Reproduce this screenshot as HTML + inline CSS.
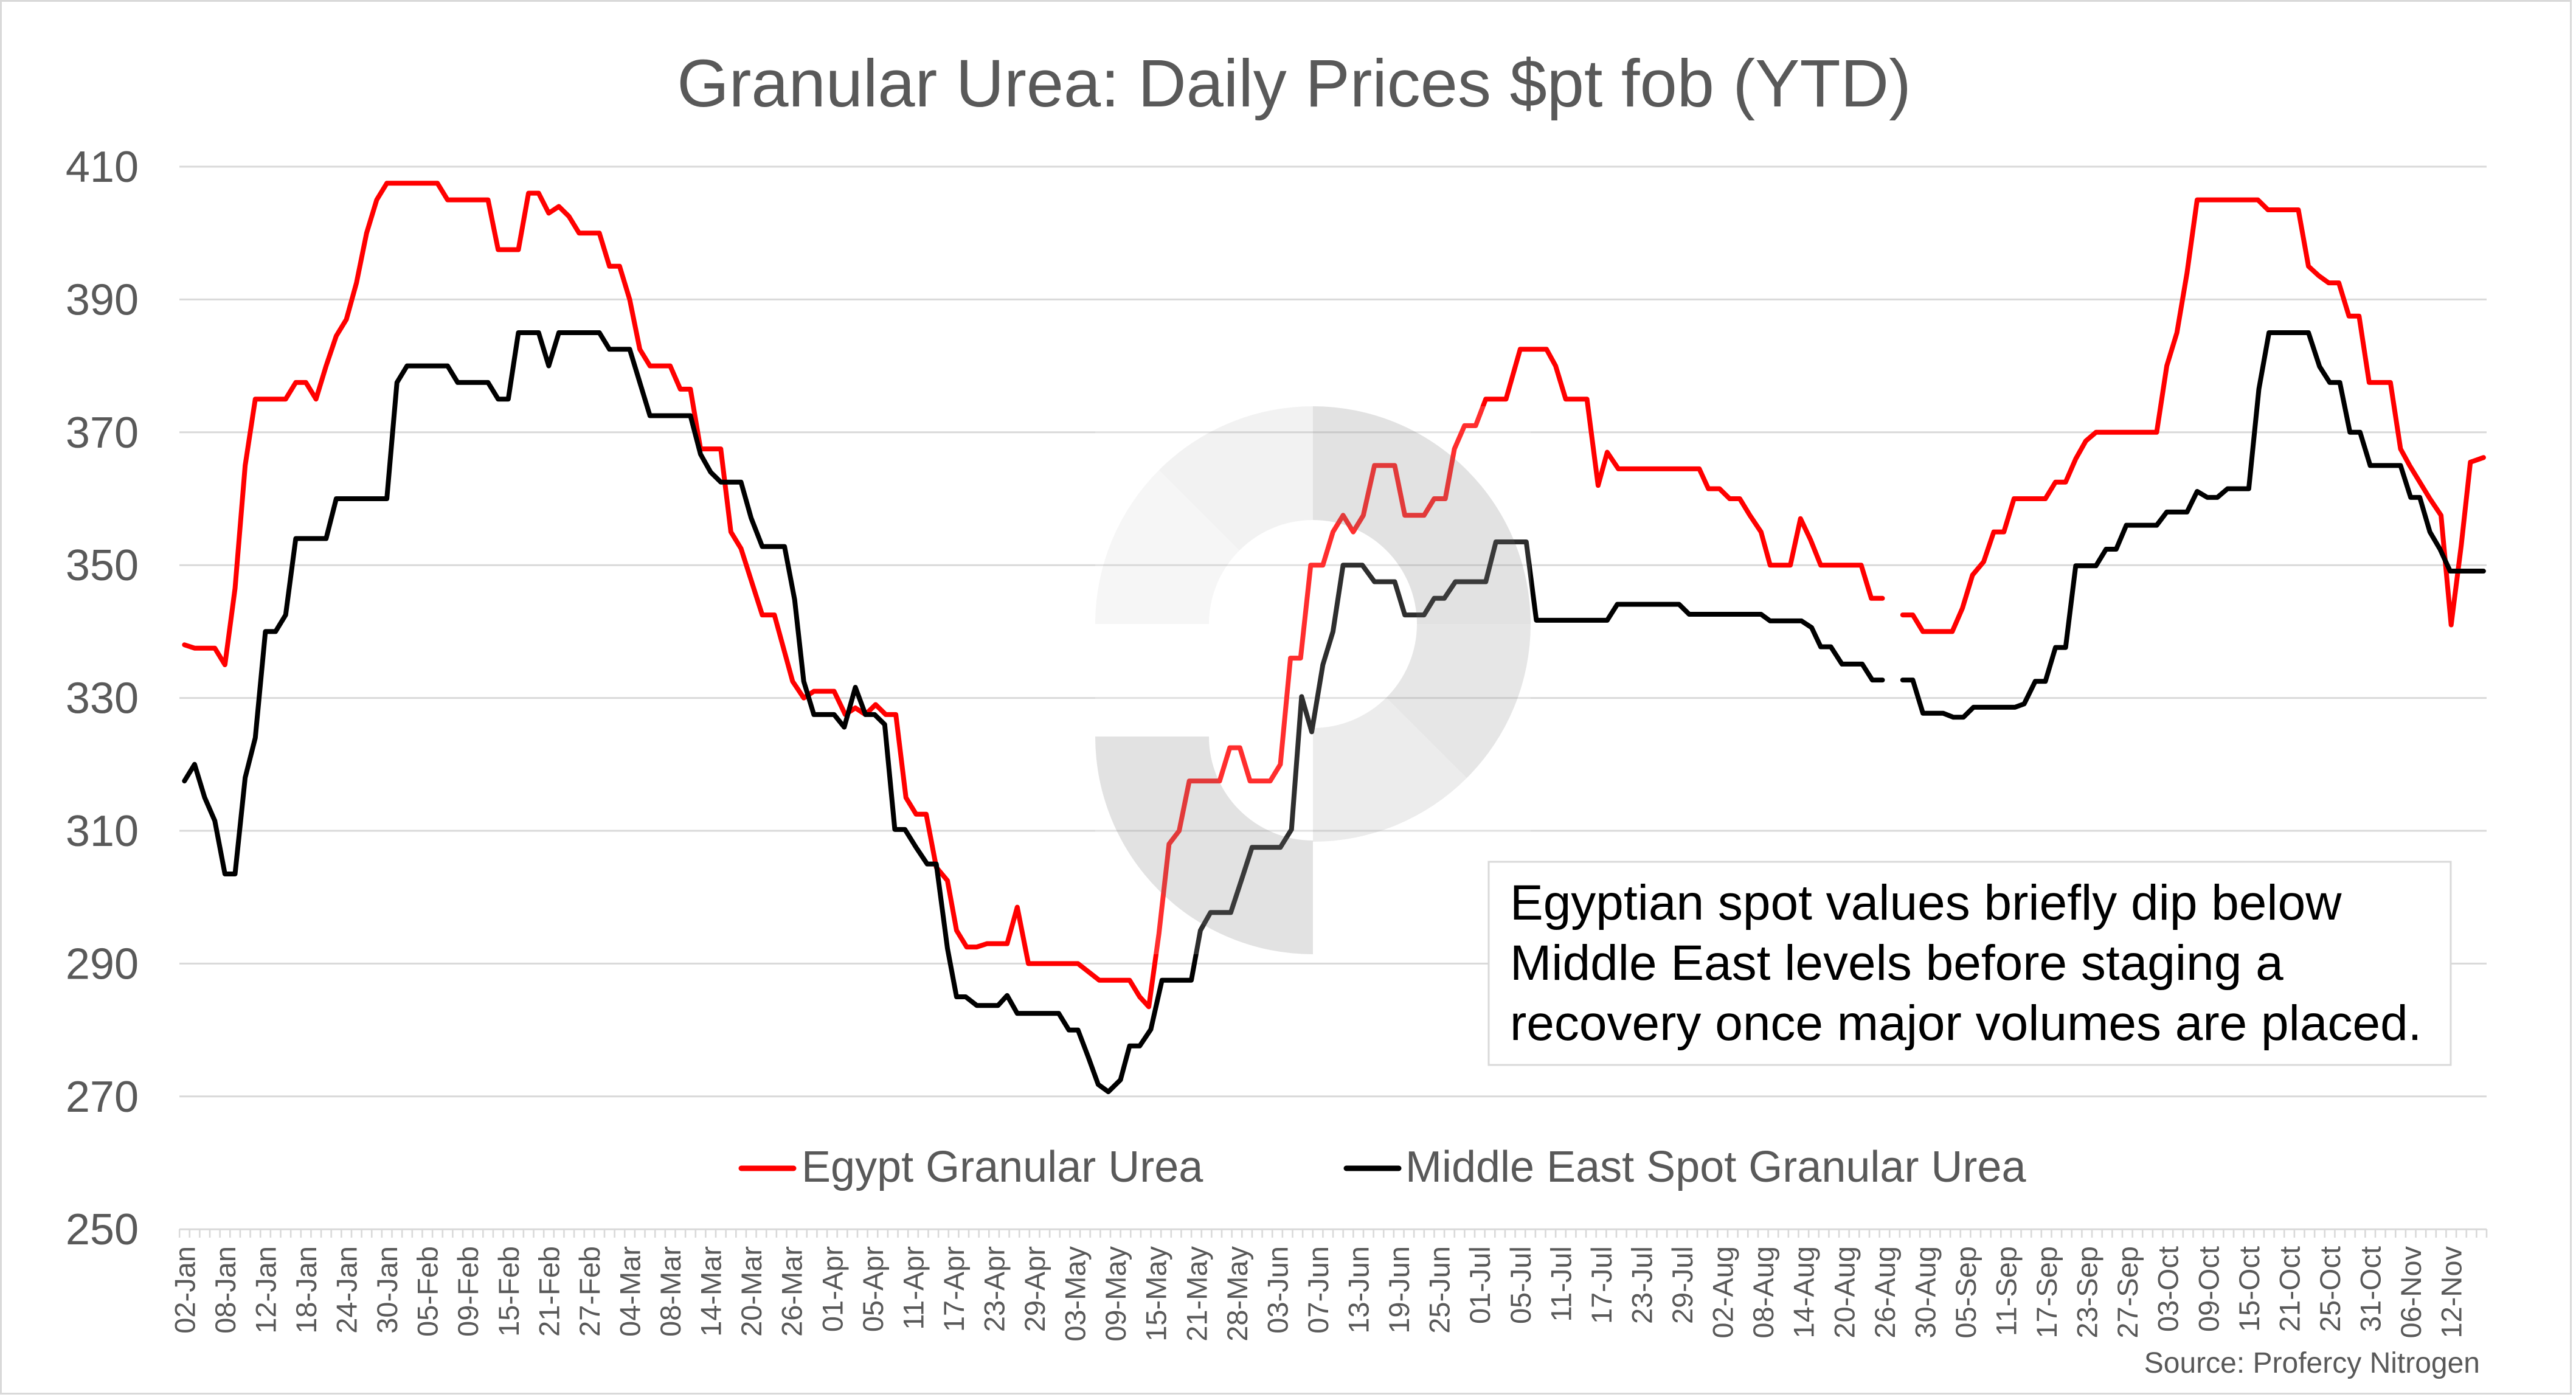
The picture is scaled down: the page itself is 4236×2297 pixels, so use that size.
<!DOCTYPE html>
<html>
<head>
<meta charset="utf-8">
<style>
html,body{margin:0;padding:0;background:#fff;}
svg{display:block;}
text{font-family:"Liberation Sans",Arial,sans-serif;}
</style>
</head>
<body>
<svg width="4236" height="2297" viewBox="0 0 4236 2297" xmlns="http://www.w3.org/2000/svg">
<defs>
<pattern id="tk" x="293.8" y="2021" width="16.64" height="30" patternUnits="userSpaceOnUse">
<rect x="0" y="0" width="2.6" height="30" fill="#d9d9d9"/>
</pattern>
</defs>
<rect width="4236" height="2297" fill="#fff"/>
<rect x="1.5" y="1.5" width="4226" height="2290" fill="none" stroke="#d9d9d9" stroke-width="3"/>

<!-- Title -->
<text x="2128" y="175" font-size="110" fill="#595959" text-anchor="middle">Granular Urea: Daily Prices $pt fob (YTD)</text>

<!-- Gridlines -->
<g stroke="#d9d9d9" stroke-width="3">
<line x1="295" y1="274" x2="4089" y2="274"/>
<line x1="295" y1="492.4" x2="4089" y2="492.4"/>
<line x1="295" y1="710.8" x2="4089" y2="710.8"/>
<line x1="295" y1="929.2" x2="4089" y2="929.2"/>
<line x1="295" y1="1147.6" x2="4089" y2="1147.6"/>
<line x1="295" y1="1366" x2="4089" y2="1366"/>
<line x1="295" y1="1584.4" x2="4089" y2="1584.4"/>
<line x1="295" y1="1802.8" x2="4089" y2="1802.8"/>
<line x1="295" y1="2021.2" x2="4089" y2="2021.2"/>
</g>
<rect x="293.8" y="2021" width="3797" height="14" fill="url(#tk)"/>

<!-- Y labels -->
<g font-size="72" fill="#595959" text-anchor="end">
<text x="228" y="299">410</text>
<text x="228" y="517.4">390</text>
<text x="228" y="735.8">370</text>
<text x="228" y="954.2">350</text>
<text x="228" y="1172.6">330</text>
<text x="228" y="1391">310</text>
<text x="228" y="1609.4">290</text>
<text x="228" y="1827.8">270</text>
<text x="228" y="2046.2">250</text>
</g>

<!-- X labels -->
<g font-size="47" fill="#595959" text-anchor="end">
<text transform="translate(320.3,2049) rotate(-90)">02-Jan</text>
<text transform="translate(386.9,2049) rotate(-90)">08-Jan</text>
<text transform="translate(453.4,2049) rotate(-90)">12-Jan</text>
<text transform="translate(520.0,2049) rotate(-90)">18-Jan</text>
<text transform="translate(586.5,2049) rotate(-90)">24-Jan</text>
<text transform="translate(653.1,2049) rotate(-90)">30-Jan</text>
<text transform="translate(719.7,2049) rotate(-90)">05-Feb</text>
<text transform="translate(786.2,2049) rotate(-90)">09-Feb</text>
<text transform="translate(852.8,2049) rotate(-90)">15-Feb</text>
<text transform="translate(919.3,2049) rotate(-90)">21-Feb</text>
<text transform="translate(985.9,2049) rotate(-90)">27-Feb</text>
<text transform="translate(1052.5,2049) rotate(-90)">04-Mar</text>
<text transform="translate(1119.0,2049) rotate(-90)">08-Mar</text>
<text transform="translate(1185.6,2049) rotate(-90)">14-Mar</text>
<text transform="translate(1252.1,2049) rotate(-90)">20-Mar</text>
<text transform="translate(1318.7,2049) rotate(-90)">26-Mar</text>
<text transform="translate(1385.3,2049) rotate(-90)">01-Apr</text>
<text transform="translate(1451.8,2049) rotate(-90)">05-Apr</text>
<text transform="translate(1518.4,2049) rotate(-90)">11-Apr</text>
<text transform="translate(1584.9,2049) rotate(-90)">17-Apr</text>
<text transform="translate(1651.5,2049) rotate(-90)">23-Apr</text>
<text transform="translate(1718.1,2049) rotate(-90)">29-Apr</text>
<text transform="translate(1784.6,2049) rotate(-90)">03-May</text>
<text transform="translate(1851.2,2049) rotate(-90)">09-May</text>
<text transform="translate(1917.7,2049) rotate(-90)">15-May</text>
<text transform="translate(1984.3,2049) rotate(-90)">21-May</text>
<text transform="translate(2050.9,2049) rotate(-90)">28-May</text>
<text transform="translate(2117.4,2049) rotate(-90)">03-Jun</text>
<text transform="translate(2184.0,2049) rotate(-90)">07-Jun</text>
<text transform="translate(2250.5,2049) rotate(-90)">13-Jun</text>
<text transform="translate(2317.1,2049) rotate(-90)">19-Jun</text>
<text transform="translate(2383.7,2049) rotate(-90)">25-Jun</text>
<text transform="translate(2450.2,2049) rotate(-90)">01-Jul</text>
<text transform="translate(2516.8,2049) rotate(-90)">05-Jul</text>
<text transform="translate(2583.3,2049) rotate(-90)">11-Jul</text>
<text transform="translate(2649.9,2049) rotate(-90)">17-Jul</text>
<text transform="translate(2716.5,2049) rotate(-90)">23-Jul</text>
<text transform="translate(2783.0,2049) rotate(-90)">29-Jul</text>
<text transform="translate(2849.6,2049) rotate(-90)">02-Aug</text>
<text transform="translate(2916.1,2049) rotate(-90)">08-Aug</text>
<text transform="translate(2982.7,2049) rotate(-90)">14-Aug</text>
<text transform="translate(3049.3,2049) rotate(-90)">20-Aug</text>
<text transform="translate(3115.8,2049) rotate(-90)">26-Aug</text>
<text transform="translate(3182.4,2049) rotate(-90)">30-Aug</text>
<text transform="translate(3248.9,2049) rotate(-90)">05-Sep</text>
<text transform="translate(3315.5,2049) rotate(-90)">11-Sep</text>
<text transform="translate(3382.1,2049) rotate(-90)">17-Sep</text>
<text transform="translate(3448.6,2049) rotate(-90)">23-Sep</text>
<text transform="translate(3515.2,2049) rotate(-90)">27-Sep</text>
<text transform="translate(3581.7,2049) rotate(-90)">03-Oct</text>
<text transform="translate(3648.3,2049) rotate(-90)">09-Oct</text>
<text transform="translate(3714.9,2049) rotate(-90)">15-Oct</text>
<text transform="translate(3781.4,2049) rotate(-90)">21-Oct</text>
<text transform="translate(3848.0,2049) rotate(-90)">25-Oct</text>
<text transform="translate(3914.5,2049) rotate(-90)">31-Oct</text>
<text transform="translate(3981.1,2049) rotate(-90)">06-Nov</text>
<text transform="translate(4047.7,2049) rotate(-90)">12-Nov</text>
</g>

<!-- Series -->
<g transform="matrix(16.64 0 0 -10.92 303.32 4751.2)" fill="none" stroke-linejoin="round" stroke-linecap="round">
<polyline vector-effect="non-scaling-stroke" stroke="#ff0000" stroke-width="8" points="0,338 1,337.5 3,337.5 4,335 5,346.5 6,365 7,375 10,375 11,377.5 12,377.5 13,375 14,380 15,384.5 16,387 17,392.5 18,400 19,405 20,407.5 25,407.5 26,405 30,405 31,397.5 33,397.5 34,406 35,406 36,403 37,404 38,402.5 39,400 41,400 42,395 43,395 44,390 45,382.5 46,380 48,380 49,376.5 50,376.5 51,367.5 53,367.5 54,355 55,352.5 57.1,342.5 58.3,342.5 60.1,332.5 61.2,330 62.2,331 64.2,331 65.3,327.5 66.3,328.5 67.3,327.5 68.3,329 69.3,327.5 70.3,327.5 71.3,315 72.3,312.5 73.3,312.5 74.3,304.5 75.4,302.5 76.3,295 77.3,292.5 78.3,292.5 79.3,293 81.3,293 82.3,298.5 83.4,290 88.3,290 90.4,287.5 93.4,287.5 94.4,285 95.3,283.5 96.3,294.5 97.3,308 98.3,310 99.3,317.5 102.3,317.5 103.3,322.5 104.3,322.5 105.3,317.5 107.3,317.5 108.3,320 109.3,336 110.3,336 111.3,350 112.5,350 113.5,355 114.5,357.5 115.5,355 116.5,357.5 117.6,365 119.6,365 120.6,357.5 122.5,357.5 123.5,360 124.6,360 125.5,367.5 126.5,371 127.6,371 128.6,375 130.6,375 132,382.5 134.6,382.5 135.5,380 136.5,375 138.6,375 139.7,362 140.6,367 141.7,364.5 149.7,364.5 150.6,361.5 151.7,361.5 152.7,360 153.7,360 154.7,357.5 155.8,355 156.7,350 158.7,350 159.7,357 160.7,353.8 161.7,350 165.7,350 166.7,345 167.8,345"/>
<polyline vector-effect="non-scaling-stroke" stroke="#ff0000" stroke-width="8" points="169.8,342.5 170.8,342.5 171.8,340 174.7,340 175.7,343.5 176.7,348.5 177.8,350.5 178.8,355 179.8,355 180.8,360 183.9,360 184.9,362.5 185.9,362.5 186.9,366 187.9,368.7 188.9,370 194.9,370 195.9,380 196.9,385 197.9,394 198.9,405 204.9,405 205.9,403.5 208.9,403.5 209.9,395 210.9,393.6 211.9,392.5 212.9,392.5 213.9,387.5 214.9,387.5 215.9,377.5 218,377.5 219,367.5 219.9,365 220.9,362.5 221.9,360 223,357.5 224,341 225,353 225.9,365.5 227.2,366.2"/>
<polyline vector-effect="non-scaling-stroke" stroke="#000000" stroke-width="8" points="0,317.5 1,320 2,315 3,311.5 4,303.5 5,303.5 6,318 7,324 8,340 9,340 10,342.5 11,354 14,354 15,360 20,360 21,377.5 22,380 26,380 27,377.5 30,377.5 31,375 32,375 33,385 35,385 36,380 37,385 41,385 42,382.5 44,382.5 45,377.5 46,372.5 50,372.5 51,366.7 52,364 53,362.5 55,362.5 56,357.1 57.1,352.8 59.3,352.8 60.3,344.8 61.2,332.5 62.2,327.5 64.2,327.5 65.2,325.6 66.3,331.6 67.3,327.5 68.2,327.5 69.2,326 70.2,310.2 71.2,310.2 72.3,307.5 73.4,305 74.3,305 75.4,292.3 76.3,285 77.2,285 78.3,283.7 80.4,283.7 81.3,285.2 82.3,282.5 86.4,282.5 87.4,280 88.3,280 89.3,276 90.3,271.8 91.3,270.7 92.5,272.5 93.4,277.6 94.4,277.6 95.5,280.1 96.6,287.5 99.5,287.5 100.4,295 101.4,297.7 103.4,297.7 104.5,302.8 105.5,307.5 108.3,307.5 109.4,310.2 110.4,330.2 111.4,324.9 112.5,335 113.5,340 114.5,350 116.4,350 117.6,347.5 119.6,347.5 120.6,342.5 122.5,342.5 123.5,345 124.5,345 125.6,347.5 128.6,347.5 129.6,353.5 132.6,353.5 133.6,341.7 140.6,341.7 141.6,344.1 147.7,344.1 148.7,342.6 155.8,342.6 156.7,341.6 159.8,341.6 160.8,340.6 161.7,337.7 162.7,337.7 163.8,335.1 165.8,335.1 166.8,332.7 167.8,332.7"/>
<polyline vector-effect="non-scaling-stroke" stroke="#000000" stroke-width="8" points="169.8,332.7 170.8,332.7 171.8,327.7 173.8,327.7 174.8,327.1 175.8,327.1 176.8,328.6 180.9,328.6 181.8,329.1 182.9,332.5 183.9,332.5 184.9,337.6 185.9,337.6 186.9,349.9 188.9,349.9 189.9,352.4 190.9,352.4 191.9,356 194.9,356 195.9,358 197.9,358 198.9,361.1 199.9,360.2 200.9,360.2 201.9,361.5 204,361.5 205,376.5 206,385 209.9,385 211,379.9 212,377.5 213,377.5 214,370 215,370 216,365 219,365 220,360.2 220.9,360.2 221.9,355 222.9,352.4 223.9,349.1 227.2,349.1"/>
</g>

<!-- Watermark -->
<g>
<rect x="1801" y="668" width="716" height="901" fill="#ffffff" fill-opacity="0.18"/>
<path d="M1801,1026 A358,358 0 0 1 1905.9,772.9 L2038.1,905.1 A171,171 0 0 0 1988,1026 Z" fill="#6f6f6f" fill-opacity="0.0625"/>
<path d="M1905.9,772.9 A358,358 0 0 1 2159,668 L2159,855 A171,171 0 0 0 2038.1,905.1 Z" fill="#6f6f6f" fill-opacity="0.09"/>
<path d="M2159,668 A358,358 0 0 1 2517,1026 L2330,1026 A171,171 0 0 0 2159,855 Z" fill="#6f6f6f" fill-opacity="0.2"/>
<path d="M2517,1026 A358,358 0 0 1 2412.1,1279.1 L2279.9,1146.9 A171,171 0 0 0 2330,1026 Z" fill="#6f6f6f" fill-opacity="0.174"/>
<path d="M2412.1,1279.1 A358,358 0 0 1 2159,1384 L2159,1197 A171,171 0 0 0 2279.9,1146.9 Z" fill="#6f6f6f" fill-opacity="0.132"/>
<path d="M1801,1211 A358,358 0 0 0 2159,1569 L2159,1382 A171,171 0 0 1 1988,1211 Z" fill="#6f6f6f" fill-opacity="0.2"/>
</g>

<!-- Annotation box -->
<rect x="2448" y="1417" width="1582" height="334" fill="#ffffff" stroke="#d9d9d9" stroke-width="3"/>
<g font-size="82" fill="#000000">
<text x="2483" y="1512">Egyptian spot values briefly dip below</text>
<text x="2483" y="1611">Middle East levels before staging a</text>
<text x="2483" y="1710">recovery once major volumes are placed.</text>
</g>

<!-- Legend -->
<line x1="1219" y1="1921" x2="1305" y2="1921" stroke="#ff0000" stroke-width="9" stroke-linecap="round"/>
<text x="1318" y="1943" font-size="72" fill="#595959">Egypt Granular Urea</text>
<line x1="2214" y1="1921" x2="2300" y2="1921" stroke="#000000" stroke-width="9" stroke-linecap="round"/>
<text x="2311" y="1943" font-size="72" fill="#595959">Middle East Spot Granular Urea</text>

<!-- Source -->
<text x="4078" y="2257" font-size="48" fill="#595959" text-anchor="end">Source: Profercy Nitrogen</text>
</svg>
</body>
</html>
